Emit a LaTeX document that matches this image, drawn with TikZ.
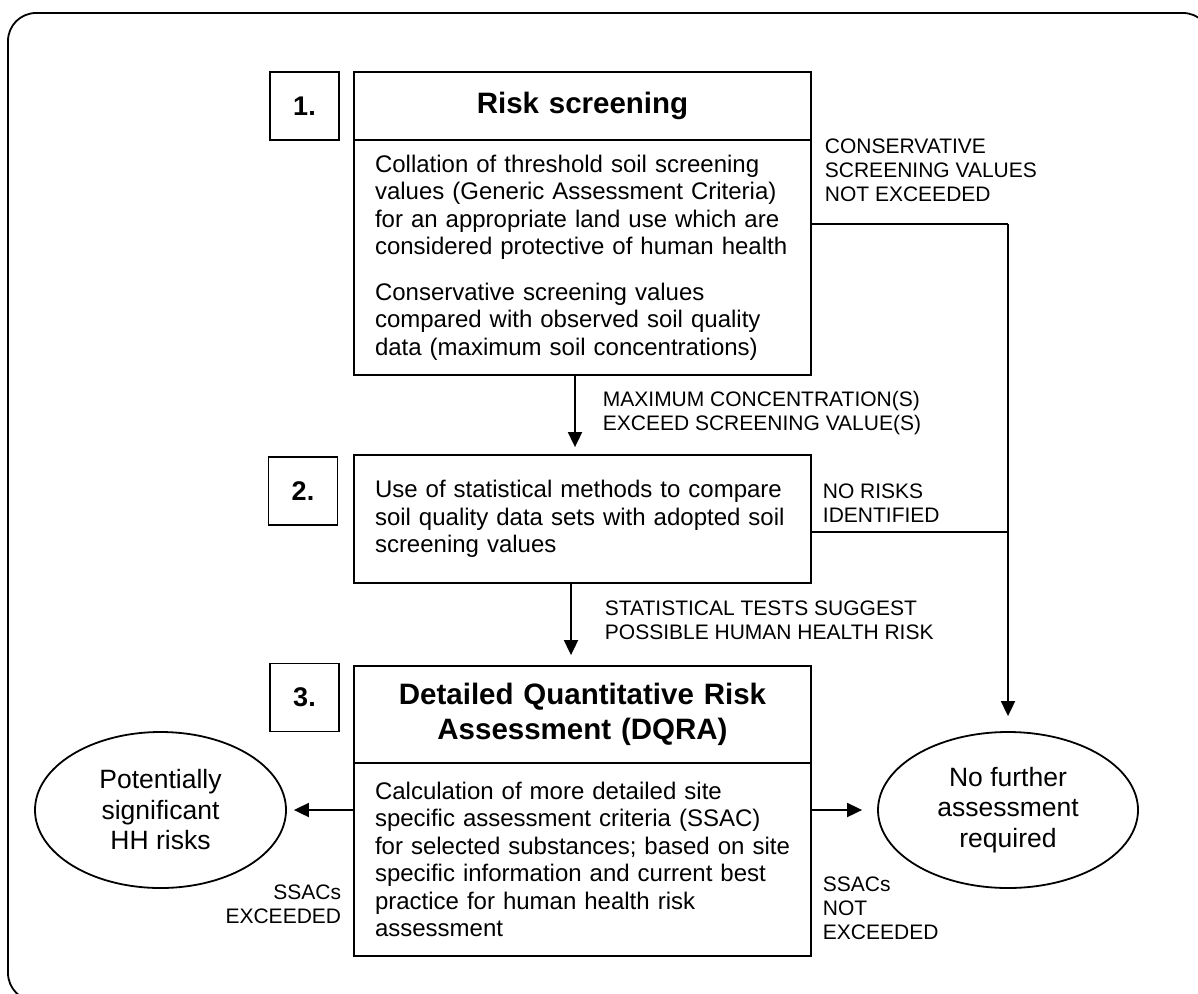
\documentclass[tikz,border=0pt]{standalone}
\usepackage{fontspec}
\setmainfont{Liberation Sans}
\usetikzlibrary{shapes.geometric,arrows.meta}

\begin{document}
\begin{tikzpicture}[x=1pt,y=-1pt,line width=1.8pt,
  numbox/.style={draw,minimum width=69pt,minimum height=68pt,inner sep=0pt,font=\fontsize{27}{32}\selectfont\bfseries},
  headbox/.style={draw,text width=415pt,inner xsep=21pt,inner ysep=0pt,align=center,font=\fontsize{29.5}{35}\selectfont\bfseries},
  bodybox/.style={draw,text width=415pt,inner xsep=21pt,inner ysep=0pt,align=left,font=\fontsize{24}{27.5}\selectfont},
  endnode/.style={draw,ellipse,inner sep=0pt,minimum height=156pt,align=center,font=\fontsize{26.5}{30.5}\selectfont},
  note/.style={align=left,inner sep=0pt,font=\fontsize{21}{24}\selectfont},
  arr/.style={-{Triangle[length=15pt,width=14pt]}}]
\useasboundingbox (0,0) rectangle (1198,993);
\clip (0,0) rectangle (1198,993);
\draw[rounded corners=28pt] (8,13) rectangle (1211,1001);

\node[numbox] (n1) at (304.5,106) {1.};
\node[headbox,minimum height=68pt] (riskhead) at (582.5,106) {Risk screening};
\node[bodybox,minimum height=235pt] (riskbody) at (582.5,257.5) {Collation of threshold soil screening\\values (Generic Assessment Criteria)\\for an appropriate land use which are\\considered protective of human health\\[18pt]Conservative screening values\\compared with observed soil quality\\data (maximum soil concentrations)};
\node[numbox] (n2) at (303,491) {2.};
\node[bodybox,minimum height=128pt] (stats) at (582.5,519) {Use of statistical methods to compare\\soil quality data sets with adopted soil\\screening values};
\node[numbox] (n3) at (304.5,697.5) {3.};
\node[headbox,minimum height=97pt] (dqhead) at (582.5,714.5) {Detailed Quantitative Risk\\Assessment (DQRA)};
\node[bodybox,minimum height=193pt] (dqbody) at (582.5,859.5) {Calculation of more detailed site\\specific assessment criteria (SSAC)\\for selected substances; based on site\\specific information and current best\\practice for human health risk\\assessment};
\node[endnode,minimum width=251pt] (hhrisks) at (160.5,810) {Potentially\\significant\\HH risks};
\node[endnode,minimum width=260pt] (nofurther) at (1008,810) {No further\\assessment\\required};

\coordinate (j1) at (1008,224);
\coordinate (j2) at (1008,532);
\draw (riskbody.east |- j1) -- (j1);
\draw (stats.east |- j2) -- (j2);
\draw[arr,shorten >=15pt] (j1) -- (nofurther.north);
\draw[arr,shorten >=7pt] ([xshift=-7.5pt]riskbody.south) -- ([xshift=-7.5pt]stats.north);
\draw[arr,shorten >=10pt] ([xshift=-11.5pt]stats.south) -- ([xshift=-11.5pt]dqhead.north);
\draw[arr,shorten >=7pt] (dqbody.west |- hhrisks) -- (hhrisks.east);
\draw[arr,shorten >=15pt] (dqbody.east |- nofurther) -- (nofurther.west);

% connector labels
\node[note,anchor=west] (lconserv) at (824,170) {CONSERVATIVE\\SCREENING VALUES\\NOT EXCEEDED};
\node[note,anchor=west] (lmax) at (602,413.5) {MAXIMUM CONCENTRATION(S)\\EXCEED SCREENING VALUE(S)};
\node[note,anchor=west] (lnorisk) at (822,503.5) {NO RISKS\\IDENTIFIED};
\node[note,anchor=west] (lstat) at (604,620.5) {STATISTICAL TESTS SUGGEST\\POSSIBLE HUMAN HEALTH RISK};
\node[note,anchor=east,align=right] (lexc) at (342,904) {SSACs\\EXCEEDED};
\node[note,anchor=west] (lnotexc) at (822,908) {SSACs\\NOT\\EXCEEDED};
\end{tikzpicture}
\end{document}
